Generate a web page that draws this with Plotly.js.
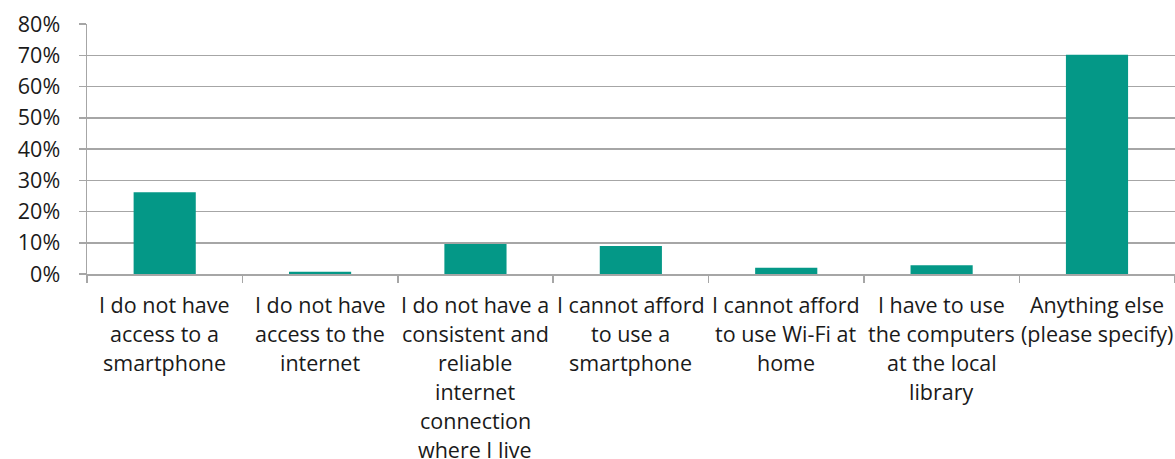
<!DOCTYPE html>
<html>
<head>
<meta charset="utf-8">
<script src="https://cdn.plot.ly/plotly-3.0.1.min.js"></script>
<style>
html,body{margin:0;padding:0;background:#fff;}
#chart{width:1175px;height:459px;}
</style>
</head>
<body>
<div id="chart"></div>
<script>
const categories = [
  "I do not have<br>access to a<br>smartphone",
  "I do not have<br>access to the<br>internet",
  "I do not have a<br>consistent and<br>reliable<br>internet<br>connection<br>where I live",
  "I cannot afford<br>to use a<br>smartphone",
  "I cannot afford<br>to use Wi-Fi at<br>home",
  "I have to use<br>the computers<br>at the local<br>library",
  "Anything else<br>(please specify)"
];
const values = [0.262, 0.007, 0.096, 0.090, 0.020, 0.028, 0.702];
const yTickValues = [0, 0.1, 0.2, 0.3, 0.4, 0.5, 0.6, 0.7, 0.8];
const yTickLabels = ["0%", "10%", "20%", "30%", "40%", "50%", "60%", "70%", "80%"];

const FONT = {family: "'Open Sans', sans-serif", size: 21.5, color: "#1a1a1a"};
const GRID = "#a6a6a6";
const LINE_GAP = 29;
const FIRST_OFFSET = 30;

const annotations = [];
categories.forEach((cat) => {
  cat.split("<br>").forEach((line, j) => {
    annotations.push({
      x: cat, xref: "x", y: 0, yref: "paper",
      text: line, showarrow: false,
      xanchor: "center", yanchor: "middle",
      yshift: -(FIRST_OFFSET + j * LINE_GAP),
      font: FONT
    });
  });
});

const data = [{
  type: "bar",
  x: categories,
  y: values,
  marker: {color: "#049887", line: {width: 0}},
  width: 0.4,
  hoverinfo: "skip"
}];

const layout = {
  width: 1175, height: 459,
  margin: {l: 87, r: 0, t: 24, b: 185},
  paper_bgcolor: "#fff", plot_bgcolor: "#fff",
  showlegend: false,
  font: FONT,
  xaxis: {
    type: "category",
    showticklabels: false,
    ticks: "outside", ticklen: 7, tickwidth: 1.5, tickcolor: GRID,
    tickson: "boundaries",
    showgrid: false,
    showline: true, linecolor: GRID, linewidth: 1.5,
    zeroline: false,
    fixedrange: true
  },
  yaxis: {
    range: [0, 0.8],
    tickvals: yTickValues, ticktext: yTickLabels,
    tickmode: "array",
    ticks: "outside", ticklen: 7, tickwidth: 1.5, tickcolor: GRID,
    ticklabelstandoff: 14,
    showgrid: true, gridcolor: GRID, gridwidth: 1.5,
    showline: true, linecolor: GRID, linewidth: 1.5,
    zeroline: false,
    tickfont: FONT,
    fixedrange: true
  },
  annotations: annotations
};

Plotly.newPlot("chart", data, layout, {displayModeBar: false, staticPlot: true});
</script>
</body>
</html>
